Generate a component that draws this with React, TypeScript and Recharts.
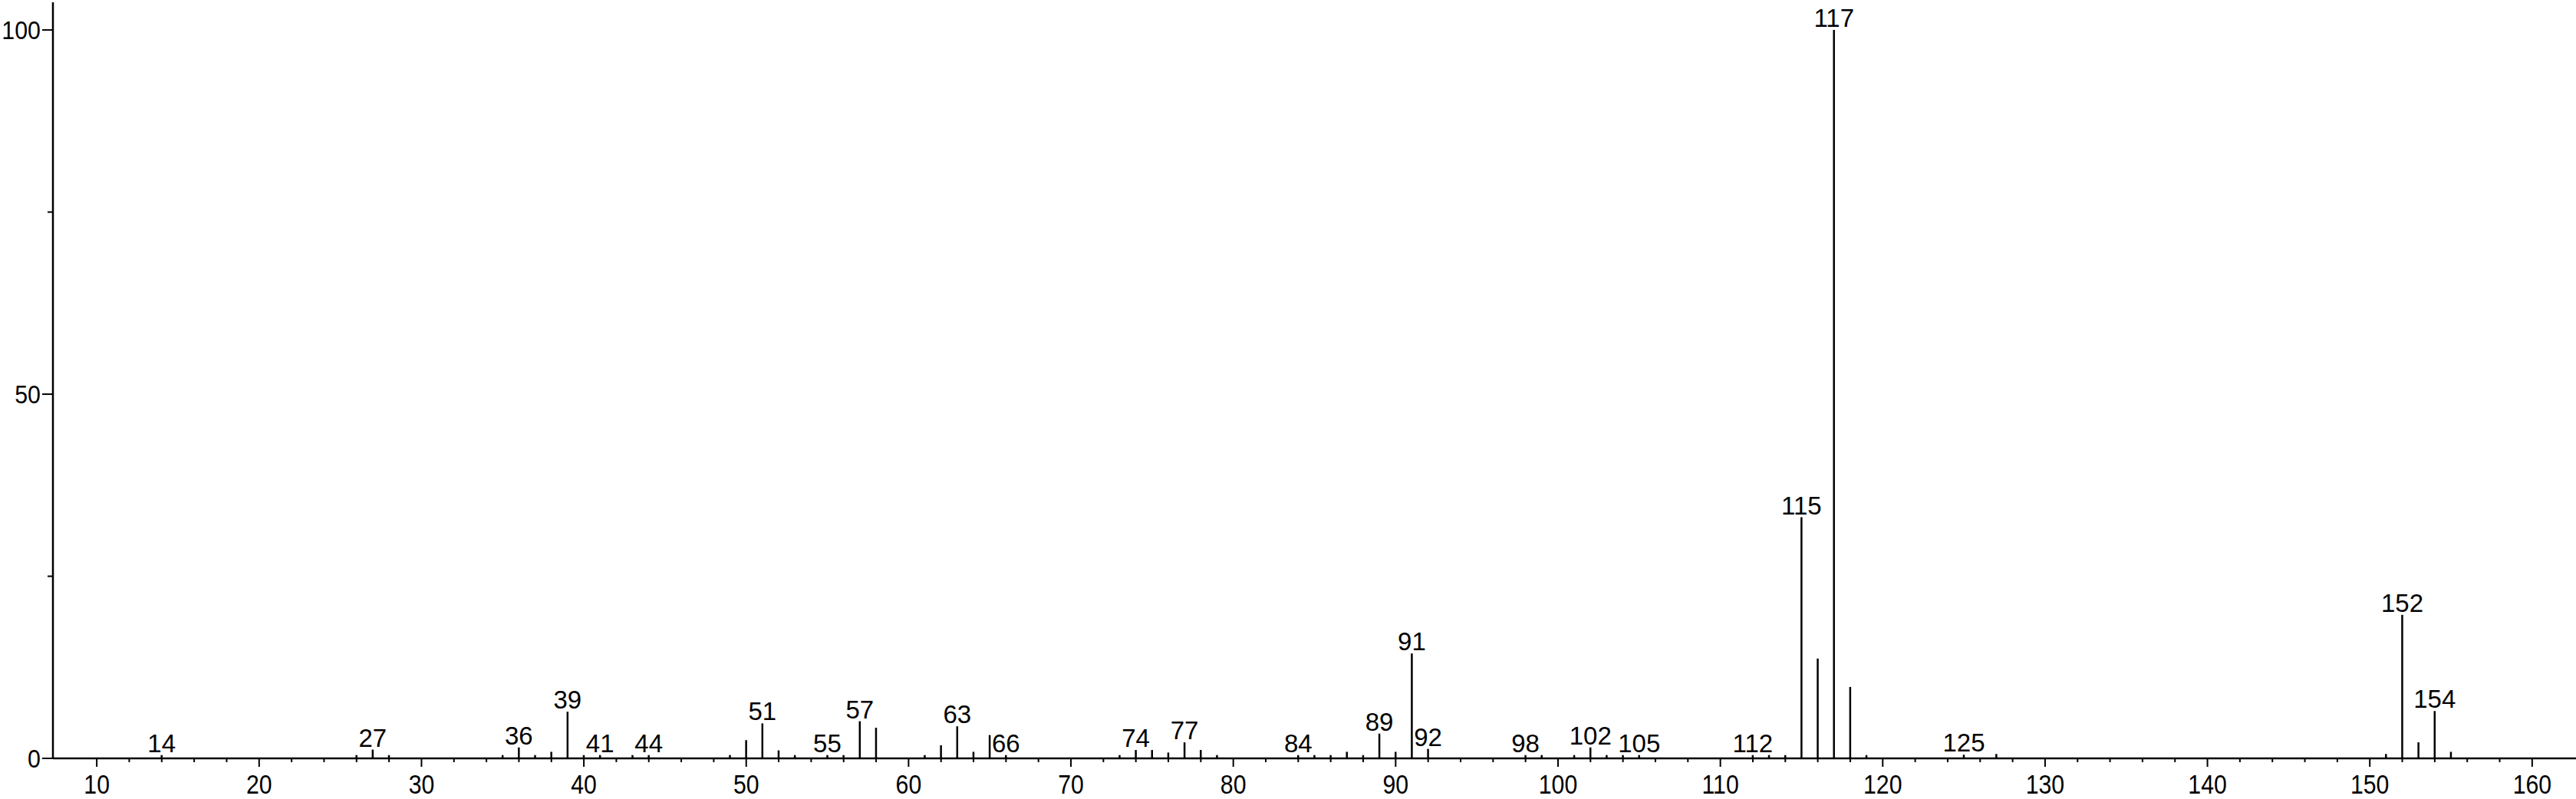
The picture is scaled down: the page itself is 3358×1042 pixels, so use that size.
import { Bar, BarChart, LabelList, XAxis, YAxis } from "recharts"

// m/z of each peak and its relative intensity (%)
const mzValues = [
  14, 26, 27, 28, 35, 36, 37, 38, 39, 40, 41, 43, 44, 49, 50, 51, 52, 53, 55, 56, 57, 58,
  61, 62, 63, 64, 65, 66, 73, 74, 75, 76, 77, 78, 79, 84, 85, 86, 87, 88, 89, 90, 91, 92,
  98, 99, 101, 102, 103, 104, 105, 112, 113, 114, 115, 116, 117, 118, 119, 125, 127,
  151, 152, 153, 154, 155,
]
const intensities = [
  0.45, 0.45, 1.2, 0.45, 0.45, 1.5, 0.45, 0.9, 6.4, 0.45, 0.45, 0.45, 0.45, 0.45, 2.5, 4.8, 1.1, 0.45, 0.45, 0.45, 5.1, 4.2,
  0.45, 1.8, 4.4, 0.9, 3.2, 0.45, 0.45, 1.15, 1.15, 0.8, 2.2, 1.15, 0.45, 0.45, 0.45, 0.45, 0.9, 0.45, 3.4, 0.9, 14.4, 1.3,
  0.45, 0.45, 0.45, 1.5, 0.45, 0.45, 0.45, 0.45, 0.45, 0.45, 33.1, 13.7, 100, 9.8, 0.45, 0.5, 0.6,
  0.6, 19.7, 2.2, 6.5, 0.9,
]
// peaks that carry an m/z label
const labeledPeaks = [
  14, 27, 36, 39, 41, 44, 51, 55, 57, 63, 66, 74, 77, 84, 89, 91, 92, 98, 102, 105, 112,
  115, 117, 125, 152, 154,
]

const xTicks = [
  10, 12, 14, 16, 18, 20, 22, 24, 26, 28, 30, 32, 34, 36, 38, 40, 42, 44, 46, 48, 50, 52, 54,
  56, 58, 60, 62, 64, 66, 68, 70, 72, 74, 76, 78, 80, 82, 84, 86, 88, 90, 92, 94, 96, 98, 100,
  102, 104, 106, 108, 110, 112, 114, 116, 118, 120, 122, 124, 126, 128, 130, 132, 134, 136,
  138, 140, 142, 144, 146, 148, 150, 152, 154, 156, 158, 160,
]
const yTicks = [0, 25, 50, 75, 100]

const data = mzValues.map((mz, i) => ({
  mz,
  intensity: intensities[i],
  label: labeledPeaks.includes(mz) ? String(mz) : undefined,
}))

const FONT = "'Liberation Sans', Arial, sans-serif"

function XTick({ x, y, payload }: any) {
  const major = payload.value % 10 === 0
  const axisY = y - 20
  return (
    <g>
      <line x1={x} x2={x} y1={axisY} y2={axisY + (major ? 11 : 5)} stroke="#000" strokeWidth={2} />
      {major && (
        <text
          transform={`translate(${x},${y}) scale(0.84,1)`}
          dy="0.71em"
          textAnchor="middle"
          fontSize={36}
          fontFamily={FONT}
          fill="#000"
        >
          {payload.value}
        </text>
      )}
    </g>
  )
}

function YTick({ x, y, payload }: any) {
  const major = payload.value % 50 === 0
  const axisX = x + 16
  return (
    <g>
      <line x1={axisX - (major ? 14 : 7)} x2={axisX} y1={y} y2={y} stroke="#000" strokeWidth={2} />
      {major && (
        <text
          transform={`translate(${x},${y}) scale(0.92,1)`}
          dy="0.355em"
          textAnchor="end"
          fontSize={33}
          fontFamily={FONT}
          fill="#000"
        >
          {payload.value}
        </text>
      )}
    </g>
  )
}

function Stick({ x, y, width, height }: any) {
  const cx = x + width / 2
  return <line x1={cx} x2={cx} y1={y} y2={y + height} stroke="#000" strokeWidth={2.5} />
}

export default function App() {
  return (
    <div style={{ width: 3358, height: 1042, background: "#fff" }}>
      <style>{"body{margin:0}"}</style>
      <BarChart
        width={3358}
        height={1042}
        data={data}
        margin={{ top: 3, right: 0, bottom: 0, left: 0 }}
        barSize={3}
      >
        <XAxis
          dataKey="mz"
          type="number"
          domain={[7.3, 162.7]}
          ticks={xTicks}
          interval={0}
          height={53}
          tickSize={11}
          tickMargin={9}
          tickLine={false}
          tick={<XTick />}
          axisLine={{ stroke: "#000", strokeWidth: 2.5 }}
        />
        <YAxis
          type="number"
          domain={[0, 103.8]}
          ticks={yTicks}
          interval={0}
          width={69}
          tickSize={14}
          tickMargin={2}
          tickLine={false}
          tick={<YTick />}
          axisLine={{ stroke: "#000", strokeWidth: 2.5 }}
        />
        <Bar dataKey="intensity" isAnimationActive={false} shape={<Stick />}>
          <LabelList
            dataKey="label"
            position="top"
            offset={4}
            style={{ fontSize: 33, fontFamily: FONT, fill: "#000" }}
          />
        </Bar>
      </BarChart>
    </div>
  )
}
